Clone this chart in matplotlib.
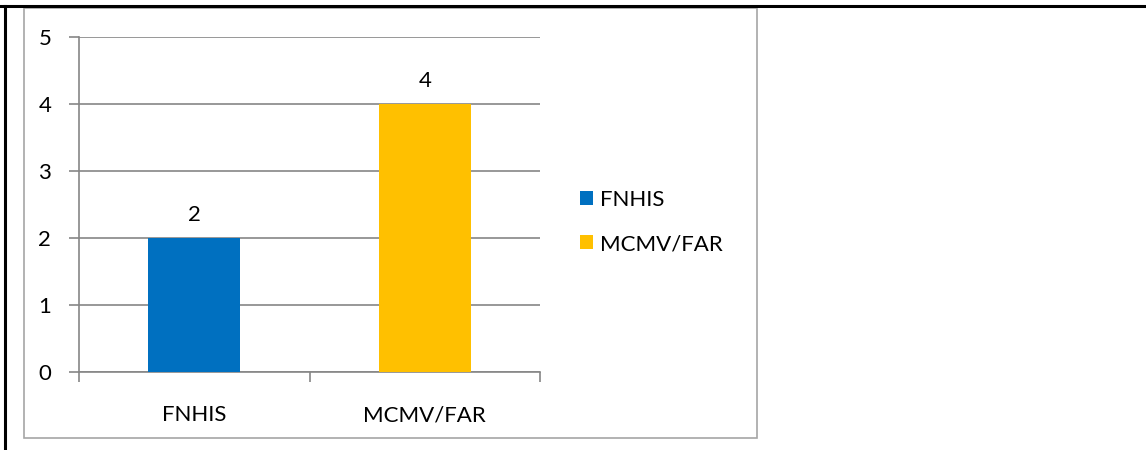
import matplotlib
matplotlib.use("Agg")
import matplotlib.pyplot as plt
from matplotlib.patches import Rectangle
from matplotlib.lines import Line2D

plt.rcParams['font.family'] = ['Lato', 'DejaVu Sans']

# ── 데이터 ──────────────────────────────────────────────
categories = ["FNHIS", "MCMV/FAR"]
values = [2, 4]
colors = ["#0070C0", "#FFC000"]
y_ticks = [0, 1, 2, 3, 4, 5]

FS = 16

W, H = 1146, 450
fig = plt.figure(figsize=(W / 100, H / 100), dpi=100)
fig.patch.set_facecolor("white")

# 표 테두리 (위, 왼쪽)
fig.add_artist(Line2D([0, 1], [1 - 6 / H, 1 - 6 / H], color="black", lw=2.2,
                      transform=fig.transFigure))
fig.add_artist(Line2D([5 / W, 5 / W], [0, 1 - 6 / H], color="black", lw=2.2,
                      transform=fig.transFigure))
# 차트 영역 테두리
fig.add_artist(Rectangle((24 / W, 1 - 438 / H), (757 - 24) / W, (438 - 8) / H,
                         fill=False, edgecolor="#A6A6A6", lw=1.2,
                         transform=fig.transFigure))

ax = fig.add_axes([79 / W, 1 - 372 / H, (540 - 79) / W, (372 - 37) / H])
x = list(range(len(categories)))
bars = ax.bar(x, values, width=0.4, color=colors, zorder=3, label=categories)
for b, v in zip(bars, values):
    ax.text(b.get_x() + b.get_width() / 2, v + 0.2, f"{v}", ha="center",
            va="bottom", fontsize=FS)

ax.set_xlim(-0.5, 1.5)
ax.set_ylim(0, 5)
ax.set_yticks(y_ticks)
ax.set_yticklabels([str(t) for t in y_ticks], fontsize=FS)
ax.yaxis.grid(True, color="#868686", lw=1.2, zorder=0)
ax.set_axisbelow(True)
for s in ["top", "right"]:
    ax.spines[s].set_visible(False)
for s in ["left", "bottom"]:
    ax.spines[s].set_color("#868686")
    ax.spines[s].set_linewidth(1.2)
ax.tick_params(axis="y", length=7, width=1.2, color="#868686", pad=13)
ax.set_xticks([-0.5, 0.5, 1.5])
ax.set_xticklabels([])
ax.set_xticks(x, minor=True)
ax.set_xticklabels(categories, minor=True, fontsize=FS)
ax.tick_params(axis="x", which="major", length=7, width=1.2, color="#868686")
ax.tick_params(axis="x", which="minor", length=0, pad=24)

ax.legend(handles=list(bars), labels=categories, loc="center left",
          bbox_to_anchor=((571 - 79) / (540 - 79), (372 - 222) / (372 - 37)),
          frameon=False, fontsize=FS, handlelength=0.6, handleheight=0.6,
          handletextpad=0.3, labelspacing=1.1, borderaxespad=0)

fig.savefig("out.png", dpi=100)
